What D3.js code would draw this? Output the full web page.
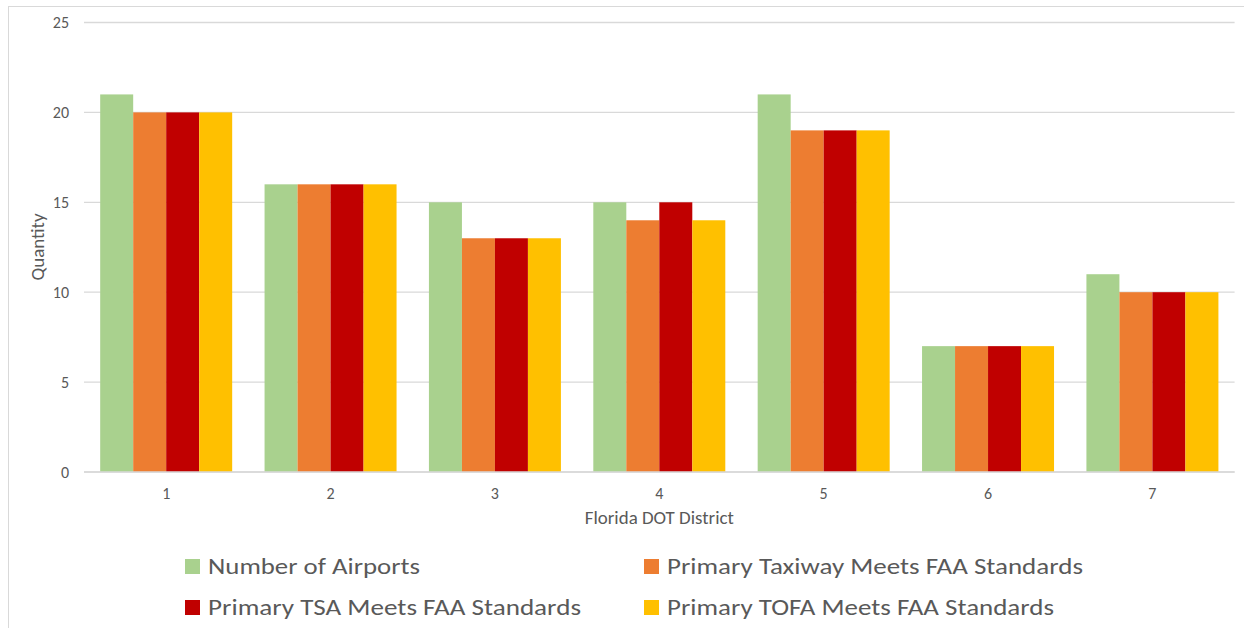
<!DOCTYPE html>
<html>
<head>
<meta charset="utf-8">
<script src="https://cdn.jsdelivr.net/npm/d3@7"></script>
<style>
  body { margin: 0; background: #fff; }
  text { font-family: Calibri, Carlito, "Open Sans", sans-serif; fill: #595959; }
</style>
</head>
<body>
<div id="chart"></div>
<script>
// data
var districts = ["1", "2", "3", "4", "5", "6", "7"];
var seriesNames = ["Number of Airports", "Primary Taxiway Meets FAA Standards",
                   "Primary TSA Meets FAA Standards", "Primary TOFA Meets FAA Standards"];
var airports = [21, 16, 15, 15, 21, 7, 11];
var taxiway  = [20, 16, 13, 14, 19, 7, 10];
var tsa      = [20, 16, 13, 15, 19, 7, 10];
var tofa     = [20, 16, 13, 14, 19, 7, 10];
var yTicks = [0, 5, 10, 15, 20, 25];
var colors = ["#A9D18E", "#ED7D31", "#C00000", "#FFC000"];

var allSeries = [airports, taxiway, tsa, tofa];

var W = 1244, H = 628;
var margin = {top: 22.5, right: 9.4, bottom: 156, left: 84};
var width = W - margin.left - margin.right,
    height = H - margin.top - margin.bottom;

var svgRoot = d3.select("#chart").append("svg")
  .attr("width", W).attr("height", H);

// chart frame
svgRoot.append("rect")
  .attr("x", 8.5).attr("y", 6.5)
  .attr("width", W + 10).attr("height", H + 10)
  .attr("fill", "none").attr("stroke", "#D9D9D9").attr("stroke-width", 1);

var svg = svgRoot.append("g")
  .attr("transform", "translate(" + margin.left + "," + margin.top + ")");

var x = d3.scaleBand()
  .domain(districts)
  .range([0, width])
  .paddingInner(0.197)
  .paddingOuter(0.0985);

var xInner = d3.scaleBand()
  .domain(d3.range(seriesNames.length))
  .range([0, x.bandwidth()]);

var y = d3.scaleLinear()
  .domain([0, 25])
  .range([height, 0]);

// gridlines
svg.append("g")
  .selectAll("line")
  .data(yTicks)
  .enter().append("line")
  .attr("x1", 0).attr("x2", width)
  .attr("y1", function(d) { return y(d); })
  .attr("y2", function(d) { return y(d); })
  .attr("stroke", "#D9D9D9").attr("stroke-width", 1.3);

// y tick labels
svg.append("g")
  .selectAll("text")
  .data(yTicks)
  .enter().append("text")
  .attr("x", -15)
  .attr("y", function(d) { return y(d); })
  .attr("dy", "0.35em")
  .attr("text-anchor", "end")
  .style("font-size", "16px")
  .text(function(d) { return d; });

// bars
var table = [];
districts.forEach(function(dist, i) {
  allSeries.forEach(function(s, j) {
    table.push({district: dist, series: j, value: s[i]});
  });
});

svg.append("g")
  .selectAll("rect")
  .data(table)
  .enter().append("rect")
  .attr("x", function(d) { return x(d.district) + xInner(d.series); })
  .attr("y", function(d) { return y(d.value); })
  .attr("width", xInner.bandwidth())
  .attr("height", function(d) { return height - y(d.value); })
  .attr("fill", function(d) { return colors[d.series]; });

// x axis line and labels
svg.append("line")
  .attr("x1", 0).attr("x2", width)
  .attr("y1", height).attr("y2", height)
  .attr("stroke", "#D9D9D9").attr("stroke-width", 1.3);

svg.append("g")
  .selectAll("text")
  .data(districts)
  .enter().append("text")
  .attr("x", function(d) { return x(d) + x.bandwidth() / 2; })
  .attr("y", height + 21)
  .attr("dy", "0.35em")
  .attr("text-anchor", "middle")
  .style("font-size", "16px")
  .text(function(d) { return d; });

// axis titles
svg.append("text")
  .attr("x", width / 2)
  .attr("y", height + 46)
  .attr("dy", "0.35em")
  .attr("text-anchor", "middle")
  .style("font-size", "18px")
  .attr("textLength", 149)
  .attr("lengthAdjust", "spacingAndGlyphs")
  .text("Florida DOT District");

svg.append("text")
  .attr("transform", "translate(" + (38 - margin.left) + "," + (247 - margin.top) + ") rotate(-90)")
  .attr("dy", "0.35em")
  .attr("text-anchor", "middle")
  .style("font-size", "18px")
  .attr("textLength", 67)
  .attr("lengthAdjust", "spacingAndGlyphs")
  .text("Quantity");

// legend
var legendPos = [[185, 566], [644, 566], [185, 607], [644, 607]];
var legendWidths = [212, 416, 373, 387];
var legend = svgRoot.append("g")
  .selectAll("g")
  .data(seriesNames)
  .enter().append("g")
  .attr("transform", function(d, i) { return "translate(" + legendPos[i][0] + "," + legendPos[i][1] + ")"; });

legend.append("rect")
  .attr("x", 0).attr("y", -7)
  .attr("width", 15).attr("height", 15)
  .attr("fill", function(d, i) { return colors[i]; });

legend.append("text")
  .attr("x", 23)
  .attr("y", 0)
  .attr("dy", "0.35em")
  .style("font-size", "22px")
  .attr("textLength", function(d, i) { return legendWidths[i]; })
  .attr("lengthAdjust", "spacingAndGlyphs")
  .text(function(d) { return d; });
</script>
</body>
</html>
